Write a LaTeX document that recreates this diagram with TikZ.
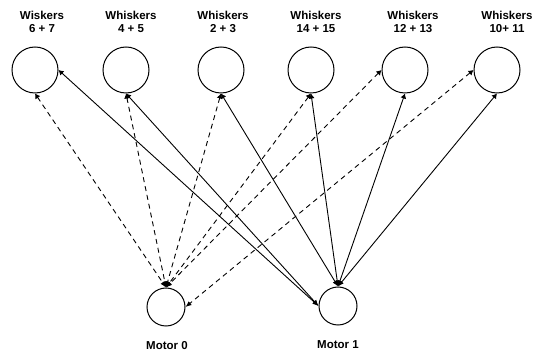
\documentclass[tikz,border=0pt]{standalone}
\usepackage{fontspec}
\setmainfont{Liberation Sans}
\usetikzlibrary{arrows.meta}
\begin{document}
\begin{tikzpicture}[x=1pt,y=-1pt,
  whisker/.style={circle,draw,line width=1pt,minimum size=46pt,inner sep=0pt},
  motor/.style={circle,draw,line width=1pt,minimum size=38pt,inner sep=0pt},
  lbl/.style={font=\bfseries\fontsize{11.5}{12.5}\selectfont,align=center,inner sep=0pt},
  link/.style={line width=0.9pt,{Latex[length=5pt,width=6pt]}-{Latex[length=6pt,width=5pt]}},
  dlink/.style={link,dash pattern=on 5pt off 4pt}]
\useasboundingbox (0,0) rectangle (533,352);
% whisker pairs
\node[whisker] (w67) at (35,70) {};
\node[whisker] (w45) at (126,70) {};
\node[whisker] (w23) at (221,70) {};
\node[whisker] (w1415) at (311,70) {};
\node[whisker] (w1213) at (405,70) {};
\node[whisker] (w1011) at (497,70) {};
\node[lbl] (t67) at (42,22) {Wiskers\\6 + 7};
\node[lbl] (t45) at (131,22) {Whiskers\\4 + 5};
\node[lbl] (t23) at (223,22) {Whiskers\\2 + 3};
\node[lbl] (t1415) at (316,22) {Whiskers\\14 + 15};
\node[lbl] (t1213) at (413,22) {Whiskers\\12 + 13};
\node[lbl] (t1011) at (507,22) {Whiskers\\10+ 11};
% motors
\node[motor] (m0) at (166,307) {};
\node[motor] (m1) at (338,306) {};
\node[lbl] (tm0) at (167,346) {Motor 0};
\node[lbl] (tm1) at (338,345) {Motor 1};
% connections to motor 0
\draw[dlink] (w67.south) -- (m0.north);
\draw[dlink] (w45.south) -- (m0.north);
\draw[dlink] (w23.south) -- (m0.north);
\draw[dlink] (w1415.south) -- (m0.north);
\draw[dlink] (w1213.west) -- (m0.north);
\draw[dlink] (w1011.west) -- (m0.east);
% connections to motor 1
\draw[link] (w67.east) -- (m1.west);
\draw[link] (w45.south) -- (m1.west);
\draw[link] (w23.south) -- (m1.north);
\draw[link] (w1415.south) -- (m1.north);
\draw[link] (w1213.south) -- (m1.north);
\draw[link] (w1011.south) -- (m1.north);
\end{tikzpicture}
\end{document}
